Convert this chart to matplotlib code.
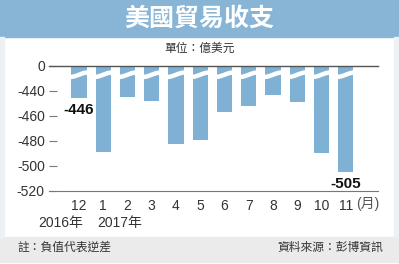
import numpy as np
import matplotlib
matplotlib.use("Agg")
from matplotlib import pyplot as plt
from matplotlib.patches import Rectangle

plt.rcParams['font.family'] = ['Liberation Sans', 'Noto Sans CJK TC', 'DejaVu Sans']

months = ["12", "1", "2", "3", "4", "5", "6", "7", "8", "9", "10", "11"]
values = [-446, -488.5, -445, -448, -482.5, -479.5, -457, -452, -443, -449, -490, -505]
ytick_values = [-420, -440, -460, -480, -500, -520]
ytick_labels = ["0", "-440", "-460", "-480", "-500", "-520"]
labeled = {0: "-446", 11: "-505"}

W, H = 399, 264
fig = plt.figure(figsize=(W / 100, H / 100), dpi=100)
fig.patch.set_facecolor("white")

# frame pieces
fig.patches.append(Rectangle((0, 1 - 37 / H), 1, 37 / H, transform=fig.transFigure,
                             color="#88b5d6", zorder=0))
fig.patches.append(Rectangle((0, 2 / H), 1, 25 / H, transform=fig.transFigure,
                             color="#ebebeb", zorder=0))
fig.patches.append(Rectangle((0, 27 / H), 4 / W, 1 - 64 / H, transform=fig.transFigure,
                             color="#eef1f3", zorder=0))
fig.patches.append(Rectangle((1 - 5 / W, 27 / H), 5 / W, 1 - 64 / H, transform=fig.transFigure,
                             color="#eef1f3", zorder=0))

fig.text(0.5, 1 - 19 / H, "美國貿易收支", color="white", fontsize=18, fontweight="bold",
         ha="center", va="center")
fig.text(0.5, 1 - 49 / H, "單位：億美元", color="#333333", fontsize=8.5, ha="center", va="center")
fig.text(17 / W, 1 - 248 / H, "註：負值代表逆差", color="#333333", fontsize=8.5, ha="left", va="center")
fig.text(383 / W, 1 - 248 / H, "資料來源：彭博資訊", color="#333333", fontsize=8.5, ha="right", va="center")
fig.text(38 / W, 1 - 223 / H, "2016年", color="#333333", fontsize=10, ha="left", va="center")
fig.text(97 / W, 1 - 223 / H, "2017年", color="#333333", fontsize=10, ha="left", va="center")

ax = fig.add_axes([49 / W, 1 - 191 / H, 329 / W, 125.3 / H])
ax.set_facecolor("none")
x = np.arange(len(months))
top = -420
ax.bar(x, np.array(values) - top, bottom=top, width=0.62, color="#7fb1d5", zorder=2)

# axis break across each bar
t = np.linspace(0, 1, 30)
for xi in x:
    xs = xi - 0.38 + 0.76 * t
    ys = -429 + 3.6 * (1 - np.cos(np.pi * t)) / 2
    ax.plot(xs, ys, color="white", lw=3.2, solid_capstyle="butt", zorder=3)

for i, txt in labeled.items():
    ax.text(x[i], values[i] - 4, txt, fontsize=11, fontweight="bold", color="#111111",
            ha="center", va="top")

ax.set_xlim(-1.237, 12.33)
ax.set_ylim(-520, -420)
ax.set_yticks(ytick_values)
ax.set_yticklabels(ytick_labels)
ax.set_xticks(x)
ax.set_xticklabels(months)
ax.tick_params(axis="y", direction="in", length=6, width=0.8, color="#777777",
               labelsize=10, labelcolor="#333333", pad=3)
ax.tick_params(axis="x", length=0, labelsize=10, labelcolor="#333333", pad=6)
ax.annotate("(月)", xy=(x[-1] + 0.42, -520), xytext=(0, -13), textcoords="offset pixels",
            fontsize=10, color="#555555", ha="left", va="center")
for s in ["left", "right"]:
    ax.spines[s].set_visible(False)
ax.spines["top"].set_color("#555555")
ax.spines["top"].set_zorder(4)
ax.spines["bottom"].set_color("#777777")
ax.spines["top"].set_linewidth(1.0)
ax.spines["bottom"].set_linewidth(0.8)

fig.savefig("out.png", dpi=100)
